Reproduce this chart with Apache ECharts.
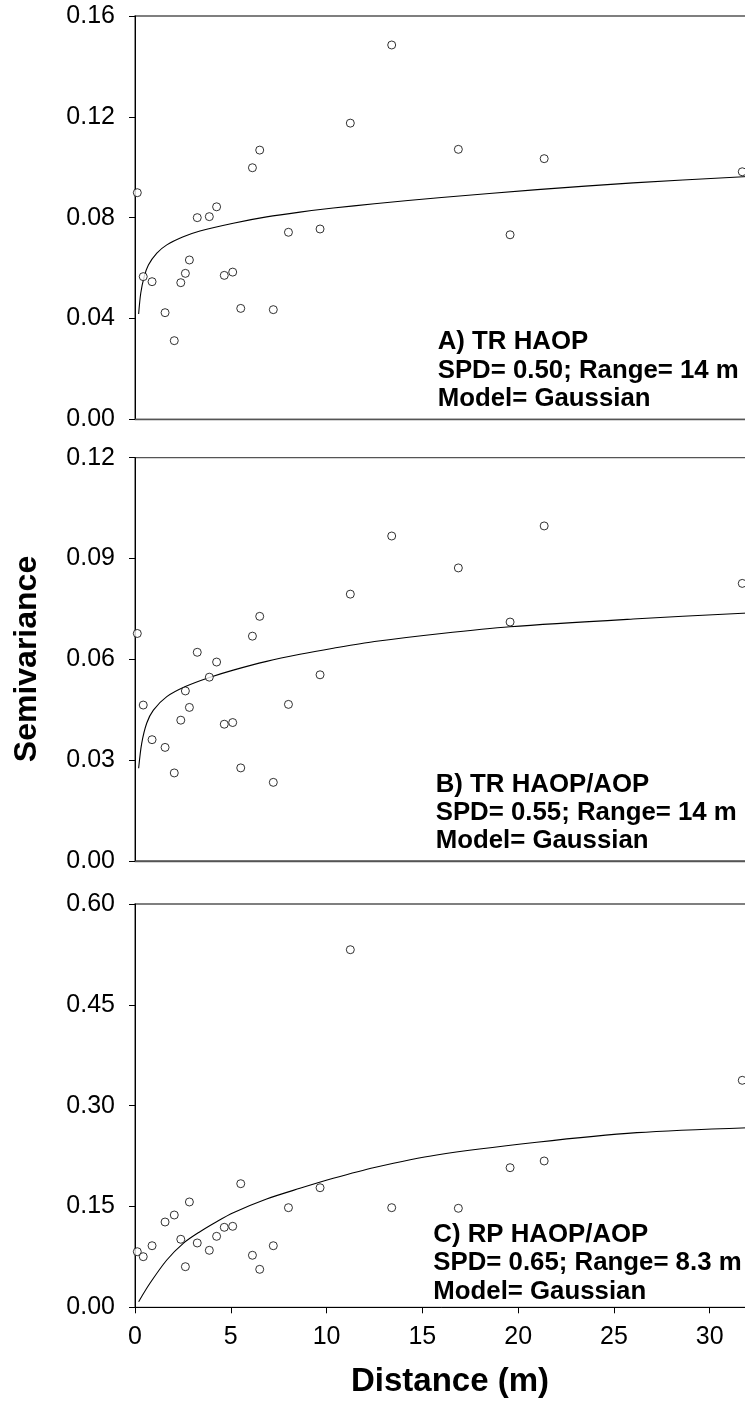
<!DOCTYPE html>
<html>
<head>
<meta charset="utf-8">
<script src="https://cdn.jsdelivr.net/npm/echarts@6/dist/echarts.min.js"></script>
<style>
  html, body { margin: 0; padding: 0; background: #fff; overflow: hidden; }
  /* canvas runs a little past the right page edge so the frames stay open there */
  #chart { width: 765px; height: 1403px; }
</style>
</head>
<body>
<div id="chart"></div>
<script>
// Lag distances (m) shared by the three empirical semivariograms
const lagDistance = [0.12, 0.43, 0.89, 1.57, 2.05, 2.39, 2.63, 2.84, 3.25, 3.88, 4.26, 4.66, 5.10, 5.52, 6.13, 6.51, 7.22, 8.01, 9.66, 11.24, 13.40, 16.88, 19.58, 21.36, 31.70];

// Empirical semivariance per panel
const semivarA = [0.0899, 0.0566, 0.0546, 0.0423, 0.0312, 0.0542, 0.0579, 0.0632, 0.0800, 0.0804, 0.0843, 0.0571, 0.0584, 0.0440, 0.0998, 0.1068, 0.0435, 0.0742, 0.0755, 0.1175, 0.1485, 0.1071, 0.0732, 0.1034, 0.0982];
const semivarB = [0.0677, 0.0464, 0.0361, 0.0338, 0.0262, 0.0419, 0.0506, 0.0457, 0.0621, 0.0547, 0.0592, 0.0407, 0.0412, 0.0277, 0.0669, 0.0728, 0.0234, 0.0466, 0.0554, 0.0794, 0.0967, 0.0872, 0.0711, 0.0997, 0.0826];
const semivarC = [0.0827, 0.0753, 0.0916, 0.1269, 0.1373, 0.1012, 0.0604, 0.1567, 0.0957, 0.0848, 0.1056, 0.1190, 0.1205, 0.1839, 0.0774, 0.0565, 0.0916, 0.1482, 0.1779, 0.5320, 0.1482, 0.1473, 0.2077, 0.2177, 0.3377];

// Fitted model curves (distance, semivariance)
const modelDistA = [0.19, 0.30, 0.48, 0.70, 1.14, 1.66, 2.52, 3.39, 5.13, 6.87, 8.61, 10.35, 12.50, 16.0, 21.0, 26.0, 32.0];
const modelA     = [0.0418, 0.0500, 0.0566, 0.0612, 0.0659, 0.0692, 0.0724, 0.0747, 0.0778, 0.0803, 0.0822, 0.0838, 0.0855, 0.0880, 0.0911, 0.0938, 0.0963];
const modelDistB = [0.19, 0.35, 0.61, 0.96, 1.66, 2.63, 3.88, 5.13, 6.87, 8.61, 10.35, 12.50, 16.0, 19.58, 26.0, 32.0];
const modelB     = [0.0276, 0.0350, 0.0410, 0.0449, 0.0489, 0.0519, 0.0546, 0.0568, 0.0594, 0.0615, 0.0633, 0.0653, 0.0677, 0.0697, 0.0720, 0.0738];
const modelDistC = [0.19, 0.78, 1.66, 2.52, 3.39, 4.26, 5.13, 6.87, 8.61, 10.35, 12.50, 15.75, 20.97, 26.2, 32.0];
const modelC     = [0.0083, 0.0357, 0.0704, 0.0952, 0.1125, 0.1274, 0.1407, 0.1611, 0.1770, 0.1919, 0.2080, 0.2266, 0.2455, 0.2598, 0.2672];

// Axis ranges and tick steps per panel
const xTicks = { min: 0, max: 32, interval: 5 };
const yRanges = [
  { max: 0.16, interval: 0.04 },
  { max: 0.12, interval: 0.03 },
  { max: 0.60, interval: 0.15 }
];

// Panel annotations
const panelNotes = [
  ['A) TR HAOP', 'SPD= 0.50; Range= 14 m', 'Model= Gaussian'],
  ['B) TR HAOP/AOP', 'SPD= 0.55; Range= 14 m', 'Model= Gaussian'],
  ['C) RP HAOP/AOP', 'SPD= 0.65; Range= 8.3 m', 'Model= Gaussian']
];
const yTitle = 'Semivariance';
const xTitle = 'Distance (m)';

const FONT = '"Liberation Sans", Arial, Helvetica, sans-serif';
const gridTops = [16, 457.7, 904];
const gridH = 403.3;
const gridLeft = 135;
const gridW = 613;

const pair = (xs, ys) => xs.map((x, i) => [x, ys[i]]);

const grids = gridTops.map(t => ({
  left: gridLeft, top: t, width: gridW, height: gridH,
  show: true, borderColor: '#555', borderWidth: 1.3, backgroundColor: 'transparent'
}));

const xAxes = [0, 1, 2].map(i => ({
  type: 'value', gridIndex: i,
  min: xTicks.min, max: xTicks.max, interval: xTicks.interval,
  axisLine: { show: true, onZero: false, lineStyle: { color: i === 2 ? '#000' : '#555', width: i === 2 ? 1 : 1.3 } },
  axisTick: { show: i === 2, length: 6, lineStyle: { color: '#000' } },
  axisLabel: { show: i === 2, fontFamily: FONT, fontSize: 25, color: '#000', margin: 17,
               showMaxLabel: false },
  splitLine: { show: false }
}));

const yAxes = yRanges.map((r, i) => ({
  type: 'value', gridIndex: i, min: 0, max: r.max, interval: r.interval,
  axisLine: { show: true, lineStyle: { color: '#000', width: 1 } },
  axisTick: { show: true, length: 6, lineStyle: { color: '#000' } },
  axisLabel: { fontFamily: FONT, fontSize: 25, color: '#000', margin: 20,
               formatter: v => v.toFixed(2) },
  splitLine: { show: false }
}));

const scatterStyle = {
  type: 'scatter', symbol: 'circle', symbolSize: 8,
  itemStyle: { color: '#fff', borderColor: '#000', borderWidth: 1 },
  z: 3
};
const lineStyle = {
  type: 'line', showSymbol: false, smooth: 0.3,
  lineStyle: { color: '#000', width: 1.1 }, z: 2
};

const series = [
  Object.assign({ xAxisIndex: 0, yAxisIndex: 0, data: pair(modelDistA, modelA) }, lineStyle),
  Object.assign({ xAxisIndex: 0, yAxisIndex: 0, data: pair(lagDistance, semivarA) }, scatterStyle),
  Object.assign({ xAxisIndex: 1, yAxisIndex: 1, data: pair(modelDistB, modelB) }, lineStyle),
  Object.assign({ xAxisIndex: 1, yAxisIndex: 1, data: pair(lagDistance, semivarB) }, scatterStyle),
  Object.assign({ xAxisIndex: 2, yAxisIndex: 2, data: pair(modelDistC, modelC) }, lineStyle),
  Object.assign({ xAxisIndex: 2, yAxisIndex: 2, data: pair(lagDistance, semivarC) }, scatterStyle)
];

// Annotation block positions: left edge and middle of the first line
const noteAnchors = [
  { x: 437.7, y: 342.0 },
  { x: 435.7, y: 784.5 },
  { x: 433.3, y: 1234.8 }
];
const noteStep = 28.4;

const graphics = [];
panelNotes.forEach((lines, p) => {
  lines.forEach((txt, k) => {
    graphics.push({
      type: 'text', z: 10,
      x: noteAnchors[p].x, y: noteAnchors[p].y + k * noteStep,
      style: { text: txt, font: 'bold 25.8px ' + FONT, fill: '#000',
               textAlign: 'left', textVerticalAlign: 'middle' }
    });
  });
});

graphics.push({
  type: 'text', x: 27, y: 659, rotation: Math.PI / 2, z: 10,
  style: { text: yTitle, font: 'bold 32px ' + FONT, fill: '#000',
           textAlign: 'center', textVerticalAlign: 'middle' }
});
graphics.push({
  type: 'text', x: 450, y: 1381.5, z: 10,
  style: { text: xTitle, font: 'bold 33px ' + FONT, fill: '#000',
           textAlign: 'center', textVerticalAlign: 'middle' }
});

const chart = echarts.init(document.getElementById('chart'), null, { renderer: 'canvas' });
chart.setOption({
  animation: false,
  backgroundColor: '#fff',
  grid: grids,
  xAxis: xAxes,
  yAxis: yAxes,
  series: series,
  graphic: graphics
});
</script>
</body>
</html>
